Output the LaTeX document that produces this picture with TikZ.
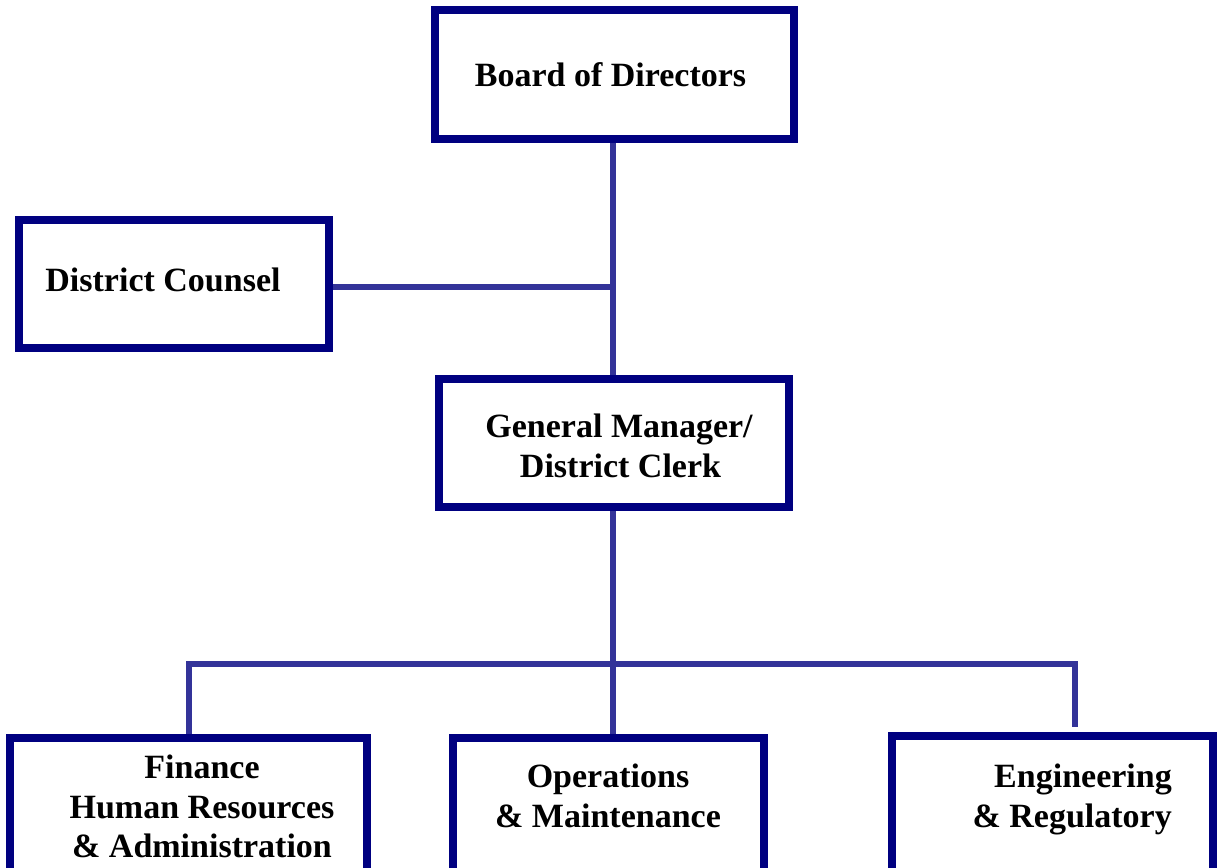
\documentclass[tikz,border=0pt]{standalone}
\usepackage{fontspec}
\setmainfont{Liberation Serif}
\definecolor{boxblue}{RGB}{0,0,128}
\definecolor{linkblue}{RGB}{51,51,153}
\begin{document}
\begin{tikzpicture}[x=1pt,y=-1pt,
  orgbox/.style={draw=boxblue,line width=8pt,fill=white,rectangle,inner sep=0pt},
  label/.style={inner sep=0pt,anchor=base,font=\fontsize{34}{40}\selectfont\bfseries,text=black},
  link/.style={draw=linkblue,line width=6pt}]
\useasboundingbox (0,0) rectangle (1217,867);
\clip (0,0) rectangle (1217,867);
\fill[white] (0,0) rectangle (1217,867);
% boxes
\node[orgbox,minimum width=359pt,minimum height=129pt] (board) at (614.5,74.5) {};
\node[orgbox,minimum width=310pt,minimum height=128pt] (counsel) at (174,284) {};
\node[orgbox,minimum width=350pt,minimum height=128pt] (gm) at (614,443) {};
\node[orgbox,minimum width=357pt,minimum height=200pt] (fin) at (188.5,838) {};
\node[orgbox,minimum width=311pt,minimum height=200pt] (ops) at (608.5,838) {};
\node[orgbox,minimum width=321pt,minimum height=200pt] (eng) at (1052.5,836) {};
% connector points
\coordinate (j1) at (613,287);
\coordinate (top) at (613,143);
\coordinate (gmtop) at (613,375);
\coordinate (gmbot) at (613,511);
\coordinate (busL) at (189,664);
\coordinate (busR) at (1075,664);
\coordinate (engEnd) at (1075,727);
% connectors
\draw[link] (top) -- (gmtop);
\draw[link] (counsel.east |- j1) -- (j1);
\draw[link] (gmbot) -- (gmbot |- ops.north);
\draw[link] (busL |- fin.north) -- (busL) -- (busR) -- (engEnd);
% redraw box borders on top
\node[orgbox,minimum width=359pt,minimum height=129pt,fill=none] at (board) {};
\node[orgbox,minimum width=350pt,minimum height=128pt,fill=none] at (gm) {};
\node[orgbox,minimum width=357pt,minimum height=200pt,fill=none] at (fin) {};
\node[orgbox,minimum width=311pt,minimum height=200pt,fill=none] at (ops) {};
% labels
\node[label] (tboard) at (610.5,86) {Board of Directors};
\node[label] (tcounsel) at (163,291) {District Counsel};
\node[label] (tgm1) at (619,437) {General Manager/};
\node[label] (tgm2) at (620.5,477) {District Clerk};
\node[label] (tfin1) at (202,778) {Finance};
\node[label] (tfin2) at (202,818) {Human Resources};
\node[label] (tfin3) at (202,857) {\& Administration};
\node[label] (tops1) at (608,787) {Operations};
\node[label] (tops2) at (608,827) {\& Maintenance};
\node[label,anchor=base east] (teng1) at (1172,787) {Engineering};
\node[label,anchor=base east] (teng2) at (1172,827) {\& Regulatory};
\end{tikzpicture}
\end{document}
